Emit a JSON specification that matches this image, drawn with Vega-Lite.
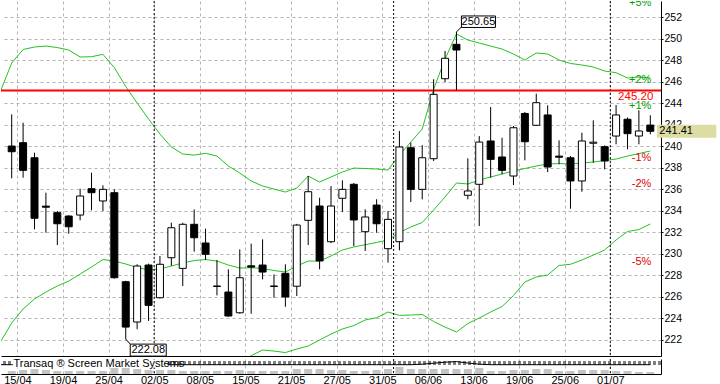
{
  "$schema": "https://vega.github.io/schema/vega-lite/v6.json",
  "background": "white",
  "padding": 0,
  "spacing": 0,
  "config": {"view": {"stroke": null}, "font": "Liberation Sans", "text": {"font": "Liberation Sans"}, "axis": {"labelOverlap": false}},
  "resolve": {"scale": {"x": "independent", "y": "independent"}, "axis": {"x": "independent", "y": "independent"}},
  "datasets": {
    "k": [
      {"i":-1,"d":"11/04","up":245.1,"mid":221.8,"ind":9.3},
      {"i":0,"d":"12/04","o":240.04,"h":242.99,"l":237.04,"c":239.51,"up":247.76,"mid":223.58,"vol":3,"ind":9.3},
      {"i":1,"d":"15/04","o":240.35,"h":242.21,"l":237.09,"c":237.78,"up":249.02,"mid":224.88,"vol":4,"ind":9.3},
      {"i":2,"d":"16/04","o":238.95,"h":239.42,"l":232.29,"c":233.32,"up":249.25,"mid":225.81,"vol":5,"ind":9.3},
      {"i":3,"d":"17/04","o":234.45,"h":235.7,"l":231.98,"c":234.35,"up":249.34,"mid":226.46,"vol":4,"ind":9.3},
      {"i":4,"d":"18/04","o":233.84,"h":234.0,"l":230.83,"c":232.81,"up":249.2,"mid":227.02,"vol":3,"ind":9.3},
      {"i":5,"d":"19/04","o":233.53,"h":233.6,"l":231.88,"c":232.53,"up":248.97,"mid":227.48,"vol":3,"ind":9.3},
      {"i":6,"d":"22/04","o":233.62,"h":236.07,"l":233.13,"c":235.39,"up":248.32,"mid":228.13,"vol":3,"ind":9.3},
      {"i":7,"d":"23/04","o":236.07,"h":237.56,"l":234.06,"c":235.7,"up":248.35,"mid":228.79,"vol":3,"ind":9.3},
      {"i":8,"d":"24/04","o":234.93,"h":236.39,"l":234.0,"c":236.01,"up":248.57,"mid":229.48,"vol":3,"ind":9.3},
      {"i":9,"d":"25/04","o":235.7,"h":236.01,"l":227.7,"c":227.79,"up":247.33,"mid":229.34,"vol":6,"ind":9.3},
      {"i":10,"d":"26/04","o":227.42,"h":227.5,"l":222.08,"c":223.2,"up":245.58,"mid":229.07,"vol":6,"ind":9.3},
      {"i":11,"d":"29/04","o":223.67,"h":229.04,"l":223.0,"c":228.88,"up":244.04,"mid":228.74,"vol":5,"ind":9.3},
      {"i":12,"d":"30/04","o":228.97,"h":229.1,"l":223.77,"c":225.22,"up":242.55,"mid":228.51,"vol":4,"ind":9.3},
      {"i":13,"d":"02/05","o":225.93,"h":229.81,"l":225.85,"c":229.04,"up":241.16,"mid":228.6,"vol":4,"ind":9.3},
      {"i":14,"d":"03/05","o":229.65,"h":232.91,"l":228.9,"c":232.44,"up":239.95,"mid":228.88,"vol":4,"ind":9.3},
      {"i":15,"d":"06/05","o":228.66,"h":232.9,"l":227.02,"c":232.76,"up":239.3,"mid":229.16,"vol":3,"ind":9.3},
      {"i":16,"d":"07/05","o":232.76,"h":234.15,"l":230.21,"c":231.51,"up":239.2,"mid":229.39,"vol":3,"ind":9.3},
      {"i":17,"d":"08/05","o":231.02,"h":232.35,"l":229.44,"c":229.97,"up":239.36,"mid":229.48,"vol":3,"ind":9.3},
      {"i":18,"d":"10/05","o":227.02,"h":229.44,"l":226.15,"c":226.98,"up":239.11,"mid":229.34,"vol":3,"ind":9.3},
      {"i":19,"d":"13/05","o":226.46,"h":228.57,"l":224.15,"c":224.23,"up":238.18,"mid":228.97,"lo":219.3,"vol":3,"ind":9.3},
      {"i":20,"d":"14/05","o":224.53,"h":230.43,"l":224.45,"c":227.79,"up":237.53,"mid":228.69,"lo":220.04,"vol":4,"ind":9.3},
      {"i":21,"d":"15/05","o":228.9,"h":230.96,"l":224.44,"c":228.78,"up":236.79,"mid":228.72,"lo":220.54,"vol":3,"ind":9.3},
      {"i":22,"d":"16/05","o":228.97,"h":231.36,"l":227.64,"c":228.32,"up":236.32,"mid":228.65,"lo":221.07,"vol":3,"ind":9.3},
      {"i":23,"d":"17/05","o":227.02,"h":228.1,"l":225.93,"c":226.98,"up":236.04,"mid":228.46,"lo":220.97,"vol":3,"ind":9.3},
      {"i":24,"d":"20/05","o":228.2,"h":229.04,"l":225.09,"c":226.0,"up":235.76,"mid":228.32,"lo":220.83,"vol":3,"ind":9.3},
      {"i":25,"d":"21/05","o":227.0,"h":232.8,"l":226.09,"c":232.69,"up":236.13,"mid":228.88,"lo":221.16,"vol":5,"ind":9.3},
      {"i":26,"d":"22/05","o":233.13,"h":237.25,"l":230.83,"c":235.79,"up":237.25,"mid":229.34,"lo":221.44,"vol":5,"ind":9.3},
      {"i":27,"d":"23/05","o":234.46,"h":235.23,"l":228.57,"c":229.35,"up":236.69,"mid":229.34,"lo":222.0,"vol":5,"ind":9.3},
      {"i":28,"d":"24/05","o":231.14,"h":236.32,"l":231.0,"c":234.46,"up":237.16,"mid":229.81,"lo":222.55,"vol":4,"ind":9.3},
      {"i":29,"d":"27/05","o":235.18,"h":236.85,"l":233.9,"c":236.01,"up":237.62,"mid":230.37,"lo":223.02,"vol":4,"ind":9.3},
      {"i":30,"d":"28/05","o":236.48,"h":236.6,"l":230.74,"c":233.16,"up":237.99,"mid":230.65,"lo":223.34,"vol":3,"ind":9.3},
      {"i":31,"d":"29/05","o":232.07,"h":234.15,"l":230.28,"c":233.44,"up":237.95,"mid":230.86,"lo":223.86,"vol":3,"ind":9.3},
      {"i":32,"d":"30/05","o":234.55,"h":235.09,"l":231.98,"c":232.81,"up":237.9,"mid":231.07,"lo":224.07,"vol":4,"ind":9.3},
      {"i":33,"d":"31/05","o":230.49,"h":234.0,"l":229.19,"c":233.22,"up":237.81,"mid":231.3,"lo":224.6,"vol":5,"ind":9.3},
      {"i":34,"d":"03/06","o":231.14,"h":241.44,"l":230.34,"c":239.95,"up":239.2,"mid":232.0,"lo":224.29,"vol":7,"ind":9.3},
      {"i":35,"d":"04/06","o":239.88,"h":240.35,"l":234.83,"c":236.01,"up":240.41,"mid":232.51,"lo":224.32,"vol":5,"ind":9.3},
      {"i":36,"d":"05/06","o":236.01,"h":240.13,"l":235.08,"c":238.95,"up":241.62,"mid":232.93,"lo":224.37,"vol":5,"ind":9.8},
      {"i":37,"d":"06/06","o":238.86,"h":246.25,"l":238.65,"c":244.85,"up":245.34,"mid":234.09,"lo":223.72,"vol":5,"ind":10.8},
      {"i":38,"d":"07/06","o":246.3,"h":248.88,"l":245.99,"c":248.2,"up":248.13,"mid":235.3,"lo":223.2,"vol":5,"ind":11.8},
      {"i":39,"d":"10/06","o":249.5,"h":250.65,"l":245.25,"c":248.97,"up":250.46,"mid":236.6,"lo":222.74,"vol":5,"ind":12.4},
      {"i":40,"d":"11/06","o":235.46,"h":238.9,"l":235.08,"c":235.86,"up":249.9,"mid":236.51,"lo":223.53,"vol":5,"ind":11.0},
      {"i":41,"d":"13/06","o":236.48,"h":240.97,"l":232.6,"c":240.41,"up":249.62,"mid":236.88,"lo":224.04,"vol":6,"ind":9.8},
      {"i":42,"d":"14/06","o":240.51,"h":243.67,"l":237.09,"c":238.8,"up":249.34,"mid":237.16,"lo":224.6,"vol":3,"ind":9.3},
      {"i":43,"d":"17/06","o":239.02,"h":240.81,"l":237.41,"c":237.78,"up":249.06,"mid":237.44,"lo":225.11,"vol":3,"ind":9.3},
      {"i":44,"d":"18/06","o":237.25,"h":241.9,"l":236.41,"c":241.74,"up":248.6,"mid":237.72,"lo":226.13,"vol":4,"ind":9.3},
      {"i":45,"d":"19/06","o":243.07,"h":243.2,"l":238.71,"c":240.44,"up":248.04,"mid":237.95,"lo":227.39,"vol":4,"ind":9.3},
      {"i":46,"d":"20/06","o":241.97,"h":244.91,"l":241.9,"c":244.07,"up":248.69,"mid":238.18,"lo":227.86,"vol":5,"ind":9.3},
      {"i":47,"d":"21/06","o":242.93,"h":243.83,"l":237.62,"c":238.09,"up":248.6,"mid":238.37,"lo":228.04,"vol":5,"ind":9.3},
      {"i":48,"d":"24/06","o":239.1,"h":240.57,"l":238.34,"c":239.0,"up":248.04,"mid":238.41,"lo":228.93,"vol":3,"ind":9.3},
      {"i":49,"d":"25/06","o":238.95,"h":239.1,"l":234.21,"c":236.79,"up":247.72,"mid":238.37,"lo":229.04,"vol":3,"ind":9.3},
      {"i":50,"d":"26/06","o":236.79,"h":241.28,"l":235.79,"c":240.51,"up":247.58,"mid":238.46,"lo":229.44,"vol":4,"ind":9.3},
      {"i":51,"d":"27/06","o":240.3,"h":242.43,"l":238.49,"c":240.4,"up":247.39,"mid":238.55,"lo":229.9,"vol":4,"ind":9.3},
      {"i":52,"d":"28/06","o":239.98,"h":240.1,"l":237.87,"c":238.65,"up":247.02,"mid":238.69,"lo":230.37,"vol":4,"ind":9.3},
      {"i":53,"d":"01/07","o":240.97,"h":243.86,"l":240.2,"c":242.93,"up":246.86,"mid":238.83,"lo":231.3,"vol":3,"ind":9.3},
      {"i":54,"d":"02/07","o":242.53,"h":242.7,"l":239.74,"c":241.19,"up":246.37,"mid":239.11,"lo":232.09,"vol":3,"ind":9.3},
      {"i":55,"d":"03/07","o":240.97,"h":243.36,"l":240.2,"c":241.44,"up":246.46,"mid":239.34,"lo":232.27,"vol":2,"ind":9.3},
      {"i":56,"d":"04/07","o":241.99,"h":242.9,"l":241.13,"c":241.41,"up":246.37,"mid":239.58,"lo":232.79,"vol":2,"ind":9.3}
    ],
    "pct": [
      {"t":"+5%","v":253.48,"pos":true},
      {"t":"+2%","v":246.24,"pos":true},
      {"t":"+1%","v":243.82,"pos":true},
      {"t":"-1%","v":239.0,"pos":false},
      {"t":"-2%","v":236.58,"pos":false},
      {"t":"-5%","v":229.34,"pos":false}
    ],
    "months": [{"d":"02/05","i":13},{"d":"03/06","i":34},{"d":"01/07","i":53}]
  },
  "vconcat": [
    {
      "width": 660,
      "height": 355,
      "encoding": {
        "x": {"type": "quantitative", "title": null,
          "scale": {"domain": [-0.5, 56.5], "nice": false, "zero": false},
          "axis": {"orient": "bottom", "values": [0.5,4.5,8.5,12.5,16.5,20.5,24.5,28.5,32.5,36.5,40.5,44.5,48.5,52.5], "labels": false, "ticks": false, "domain": true, "domainColor": "#000000", "domainWidth": 1, "grid": true, "gridColor": "#b4b4b4", "gridDash": [3,3], "title": null}},
        "y": {"type": "quantitative", "title": null,
          "scale": {"domain": [220.51, 253.53], "nice": false, "zero": false},
          "axis": {"orient": "right", "tickCount": 16, "title": null, "grid": true, "gridColor": "#b4b4b4", "gridDash": [3,3], "domainColor": "#000000", "domainWidth": 1, "tickColor": "#000000", "tickSize": 2, "labelPadding": 1, "labelFontSize": 10.5, "labelColor": "#000000", "labelFont": "Liberation Sans", "labelFlush": false, "labelOverlap": false, "labelBound": false}}
      },
      "layer": [
        {
          "data": {"name": "k"},
          "mark": {"type": "line", "color": "#22c322", "strokeWidth": 1, "clip": true},
          "encoding": {
            "x": {"field": "i"},
            "y": {"field": "up"}
          }
        },
        {
          "data": {"name": "k"},
          "mark": {"type": "line", "color": "#22c322", "strokeWidth": 1, "clip": true},
          "encoding": {
            "x": {"field": "i"},
            "y": {"field": "mid"}
          }
        },
        {
          "data": {"name": "k"},
          "mark": {"type": "line", "color": "#22c322", "strokeWidth": 1, "clip": true},
          "encoding": {
            "x": {"field": "i"},
            "y": {"field": "lo"}
          }
        },
        {
          "data": {"name": "months"},
          "mark": {"type": "rule", "color": "#000000", "strokeWidth": 1, "strokeDash": [2,2], "xOffset": -5.8},
          "encoding": {
            "x": {"field": "i"},
            "y": null
          }
        },
        {
          "data": {"values": [{"lvl": 245.2, "t": "245.20", "i": 56}]},
          "mark": {"type": "rule", "color": "#ff0000", "strokeWidth": 2},
          "encoding": {
            "x": null,
            "y": {"field": "lvl"}
          }
        },
        {
          "data": {"name": "k"},
          "transform": [{"filter": "datum.o != null"}],
          "mark": {"type": "rule", "color": "#000000", "strokeWidth": 1},
          "encoding": {
            "x": {"field": "i"},
            "y": {"field": "l"},
            "y2": {"field": "h"}
          }
        },
        {
          "data": {"name": "k"},
          "transform": [{"filter": "datum.o != null"}],
          "mark": {"type": "bar", "width": 7, "stroke": "#000000", "strokeWidth": 1},
          "encoding": {
            "x": {"field": "i"},
            "y": {"field": "o"},
            "y2": {"field": "c"},
            "fill": {"condition": {"test": "datum.c >= datum.o", "value": "#ffffff"}, "value": "#000000"}
          }
        },
        {
          "data": {"name": "pct"},
          "mark": {"type": "text", "align": "right", "baseline": "middle", "fontSize": 11, "dx": 1, "dy": 1, "clip": true},
          "encoding": {
            "x": {"datum": 56},
            "y": {"field": "v"},
            "text": {"field": "t"},
            "color": {"condition": {"test": "datum.pos", "value": "#00a000"}, "value": "#e00000"}
          }
        },
        {
          "data": {"values": [{"lvl": 245.2, "t": "245.20", "i": 56}]},
          "mark": {"type": "text", "align": "right", "baseline": "middle", "fontSize": 11.5, "color": "#ff0000", "dx": 3, "dy": 6.5},
          "encoding": {
            "x": {"field": "i"},
            "y": {"field": "lvl"},
            "text": {"field": "t"}
          }
        },
        {
          "data": {"values": [{"i": 39, "v": 250.65, "t": "250.65"}]},
          "mark": {"type": "rule", "color": "#000000", "strokeWidth": 1, "x2Offset": 5, "y2Offset": -5},
          "encoding": {
            "x": {"field": "i"},
            "x2": {"field": "i"},
            "y": {"field": "v"},
            "y2": {"field": "v"}
          }
        },
        {
          "data": {"values": [{"i": 39, "v": 250.65, "t": "250.65"}]},
          "mark": {"type": "rect", "fill": "#ffffff", "stroke": "#000000", "strokeWidth": 1, "xOffset": 5, "x2Offset": 39, "yOffset": -16, "y2Offset": -4.5},
          "encoding": {
            "x": {"field": "i"},
            "x2": {"field": "i"},
            "y": {"field": "v"},
            "y2": {"field": "v"}
          }
        },
        {
          "data": {"values": [{"i": 39, "v": 250.65, "t": "250.65"}]},
          "mark": {"type": "text", "align": "center", "baseline": "middle", "fontSize": 11, "color": "#000000", "dx": 22, "dy": -10},
          "encoding": {
            "x": {"field": "i"},
            "y": {"field": "v"},
            "text": {"field": "t"}
          }
        },
        {
          "data": {"values": [{"i": 10, "v": 222.08, "t": "222.08"}]},
          "mark": {"type": "rule", "color": "#000000", "strokeWidth": 1, "x2Offset": 4.5, "y2Offset": 5},
          "encoding": {
            "x": {"field": "i"},
            "x2": {"field": "i"},
            "y": {"field": "v"},
            "y2": {"field": "v"}
          }
        },
        {
          "data": {"values": [{"i": 10, "v": 222.08, "t": "222.08"}]},
          "mark": {"type": "rect", "fill": "#ffffff", "stroke": "#000000", "strokeWidth": 1, "xOffset": 4.5, "x2Offset": 40.5, "yOffset": 5, "y2Offset": 17},
          "encoding": {
            "x": {"field": "i"},
            "x2": {"field": "i"},
            "y": {"field": "v"},
            "y2": {"field": "v"}
          }
        },
        {
          "data": {"values": [{"i": 10, "v": 222.08, "t": "222.08"}]},
          "mark": {"type": "text", "align": "center", "baseline": "middle", "fontSize": 11, "color": "#000000", "dx": 22.5, "dy": 11},
          "encoding": {
            "x": {"field": "i"},
            "y": {"field": "v"},
            "text": {"field": "t"}
          }
        },
        {
          "data": {"values": [{"i": 56, "v": 241.41, "t": "241.41"}]},
          "mark": {"type": "rect", "fill": "#dcdca4", "xOffset": 6.8, "x2Offset": 66, "yOffset": -6.5, "y2Offset": 6.5},
          "encoding": {
            "x": {"field": "i"},
            "x2": {"field": "i"},
            "y": {"field": "v"},
            "y2": {"field": "v"}
          }
        },
        {
          "data": {"values": [{"i": 56, "v": 241.41, "t": "241.41"}]},
          "mark": {"type": "text", "align": "left", "baseline": "middle", "fontSize": 11, "color": "#000000", "dx": 9},
          "encoding": {
            "x": {"field": "i"},
            "y": {"field": "v"},
            "text": {"field": "t"}
          }
        }
      ]
    },
    {
      "width": 660,
      "height": 15,
      "layer": [
        {
          "data": {"name": "k"},
          "transform": [{"filter": "datum.vol != null"}],
          "mark": {"type": "bar", "width": 8, "color": "#c4c4c4", "clip": true},
          "encoding": {
            "x": {"field": "i", "type": "quantitative", "title": null,
              "scale": {"domain": [-0.5, 56.5], "nice": false, "zero": false},
              "axis": {"orient": "bottom", "values": [0.5,4.5,8.5,12.5,16.5,20.5,24.5,28.5,32.5,36.5,40.5,44.5,48.5,52.5],
                "labelExpr": "['15/04','19/04','25/04','02/05','08/05','15/05','21/05','27/05','31/05','06/06','13/06','19/06','25/06','01/07'][round((datum.value-0.5)/4)]",
                "ticks": false, "domain": true, "domainColor": "#000000", "domainWidth": 1, "grid": true, "gridColor": "#b4b4b4", "gridDash": [3,3], "labelFontSize": 11, "labelColor": "#000000", "labelFont": "Liberation Sans", "labelPadding": 0, "labelFlush": false, "labelOverlap": false, "title": null}},
            "y": {"field": "vol", "type": "quantitative", "title": null,
              "scale": {"domain": [0, 15], "nice": false, "zero": false},
              "axis": {"orient": "right", "labels": false, "ticks": false, "grid": false, "domain": true, "domainColor": "#000000", "title": null}}
          }
        },
        {
          "data": {"name": "months"},
          "mark": {"type": "rule", "color": "#000000", "strokeWidth": 1, "strokeDash": [2,2], "xOffset": -5.8},
          "encoding": {
            "x": {"field": "i", "type": "quantitative", "title": null}
          }
        },
        {
          "data": {"values": [{"lv": 12}, {"lv": 10}]},
          "mark": {"type": "rule", "color": "#000000", "strokeWidth": 1, "strokeDash": [3,2]},
          "encoding": {
            "y": {"field": "lv", "type": "quantitative", "title": null}
          }
        },
        {
          "data": {"name": "k"},
          "mark": {"type": "line", "color": "#000000", "strokeWidth": 1, "clip": true},
          "encoding": {
            "x": {"field": "i", "type": "quantitative", "title": null},
            "y": {"field": "ind", "type": "quantitative", "title": null}
          }
        },
        {
          "data": {"values": [{"a": 0.1, "b": 13.66, "y1": 6.5, "y2": 14.5}]},
          "mark": {"type": "rect", "fill": "#ffffff"},
          "encoding": {
            "x": {"field": "a", "type": "quantitative"},
            "x2": {"field": "b"},
            "y": {"field": "y1", "type": "quantitative"},
            "y2": {"field": "y2"}
          }
        },
        {
          "data": {"values": [{"a": 0.15, "yy": 10.5, "t": "Transaq ® Screen Market Systems"}]},
          "mark": {"type": "text", "align": "left", "baseline": "middle", "fontSize": 11, "color": "#000000"},
          "encoding": {
            "x": {"field": "a", "type": "quantitative"},
            "y": {"field": "yy", "type": "quantitative"},
            "text": {"field": "t"}
          }
        }
      ]
    }
  ]
}
